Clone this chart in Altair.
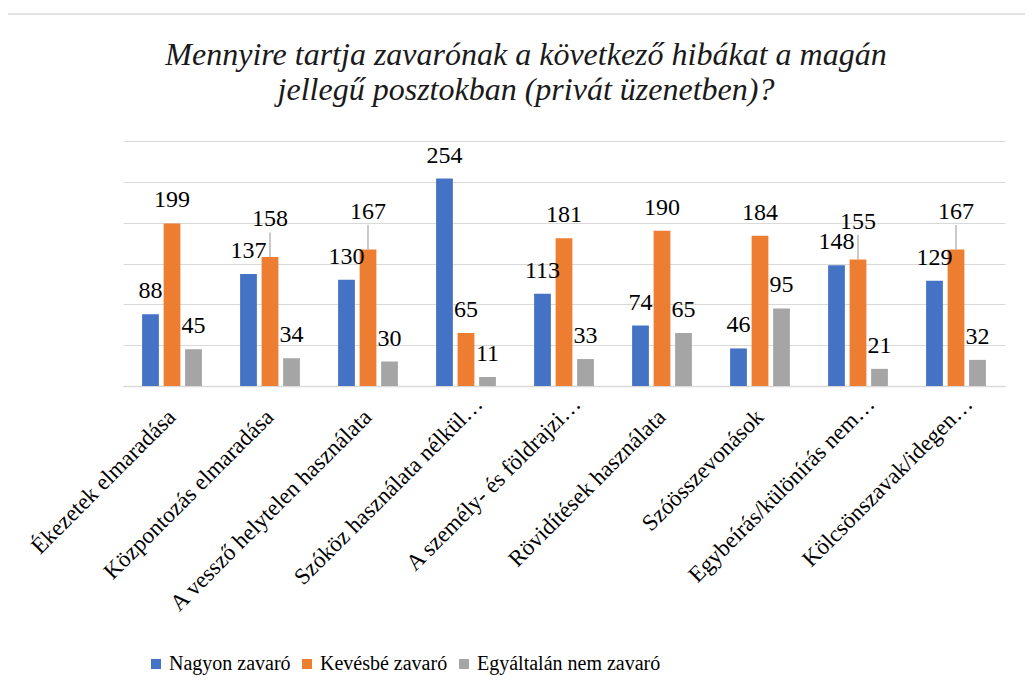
import altair as alt
import pandas as pd

categories = [
    "Ékezetek elmaradása",
    "Központozás elmaradása",
    "A vessző helytelen használata",
    "Szóköz használata nélkül…",
    "A személy- és földrajzi…",
    "Rövidítések használata",
    "Szóösszevonások",
    "Egybeírás/különírás nem…",
    "Kölcsönszavak/idegen…",
]
series = ["Nagyon zavaró", "Kevésbé zavaró", "Egyáltalán nem zavaró"]
nagyon = [88, 137, 130, 254, 113, 74, 46, 148, 129]
kevesbe = [199, 158, 167, 65, 181, 190, 184, 155, 167]
egyaltalan = [45, 34, 30, 11, 33, 65, 95, 21, 32]
colors = ["#4472C4", "#ED7D31", "#A5A5A5"]
title_lines = [
    "Mennyire tartja zavarónak a következő hibákat a magán",
    "jellegű posztokban (privát üzenetben)?",
]

# labels of orange bars that sit close above the blue neighbour are lifted
LIFT = 18
rows = []
for i, c in enumerate(categories):
    for s, vals in zip(series, [nagyon, kevesbe, egyaltalan]):
        v = vals[i]
        lifted = s == series[1] and 0 <= v - nagyon[i] < 45
        rows.append(
            {
                "cat": c,
                "series": s,
                "value": v,
                "label_y": v + (LIFT if lifted else 0),
                "leader": lifted,
                "leader_top": v + LIFT + 12,
            }
        )
df = pd.DataFrame(rows)

FONT = "Liberation Serif"
W, H = 882, 245
truncated = "indexof(datum.label, '…') >= 0"

x = alt.X(
    "cat:N",
    sort=categories,
    scale=alt.Scale(paddingInner=0.39, paddingOuter=0.195),
    axis=alt.Axis(
        title=None,
        labelAngle=-45,
        labelAlign="right",
        labelBaseline="middle",
        labelPadding=alt.condition(truncated, alt.value(14), alt.value(27)),
        labelOffset=alt.condition(truncated, alt.value(13), alt.value(0)),
        labelFont=FONT,
        labelFontSize=23,
        labelColor="#000000",
        labelLimit=0,
        ticks=False,
        domainColor="#d9d9d9",
        domainWidth=1.5,
    ),
)
xo = alt.XOffset("series:N", sort=series, scale=alt.Scale(paddingInner=0.22))
yscale = alt.Scale(domain=[0, 300])
y = alt.Y(
    "value:Q",
    scale=yscale,
    axis=alt.Axis(
        title=None,
        values=[0, 50, 100, 150, 200, 250, 300],
        labels=False,
        ticks=False,
        domain=False,
        gridColor="#d9d9d9",
        gridWidth=1.2,
    ),
)
color = alt.Color(
    "series:N",
    sort=series,
    scale=alt.Scale(domain=series, range=colors),
    legend=alt.Legend(
        title=None,
        orient="none",
        legendX=23,
        legendY=513,
        direction="horizontal",
        symbolType="square",
        symbolSize=100,
        symbolStrokeWidth=0,
        labelFont=FONT,
        labelFontSize=20,
        labelColor="#000000",
        labelLimit=0,
        columnPadding=6,
        labelOffset=3,
    ),
)

base = alt.Chart(df)
bars = base.mark_bar().encode(x=x, xOffset=xo, y=y, color=color)
labels = base.mark_text(
    font=FONT, fontSize=24, baseline="alphabetic", dy=-16, color="#000000"
).encode(
    x=x,
    xOffset=xo,
    y=alt.Y("label_y:Q", scale=yscale),
    text="value:Q",
)
leaders = (
    base.transform_filter("datum.leader")
    .mark_rule(color="#a6a6a6", strokeWidth=1.2)
    .encode(
        x=x,
        xOffset=xo,
        y=alt.Y("value:Q", scale=yscale),
        y2="leader_top:Q",
    )
)

one = pd.DataFrame({"k": [1]})
frame = (
    alt.Chart(one)
    .mark_rect(fill=None, stroke="#d9d9d9", strokeWidth=1.5)
    .encode(x=alt.value(-116), x2=alt.value(915), y=alt.value(-127), y2=alt.value(565))
)
title1 = (
    alt.Chart(pd.DataFrame({"t": [title_lines[0]]}))
    .mark_text(font=FONT, fontSize=32, fontStyle="italic", baseline="alphabetic",
               align="center", color="#1a1a1a")
    .encode(text="t:N", x=alt.value(403), y=alt.value(-76))
)
title2 = (
    alt.Chart(pd.DataFrame({"t": [title_lines[1]]}))
    .mark_text(font=FONT, fontSize=32, fontStyle="italic", baseline="alphabetic",
               align="center", color="#1a1a1a")
    .encode(text="t:N", x=alt.value(403), y=alt.value(-41))
)

chart = (
    alt.layer(frame, title1, title2, bars, leaders, labels)
    .properties(
        width=W,
        height=H,
        autosize=alt.AutoSizeParams(type="none"),
        padding={"left": 115, "top": 133, "right": 20, "bottom": 312},
    )
    .configure(font=FONT)
    .configure_view(stroke=None)
)

chart.save("out.html", embed_options={"renderer": "svg", "actions": False})
